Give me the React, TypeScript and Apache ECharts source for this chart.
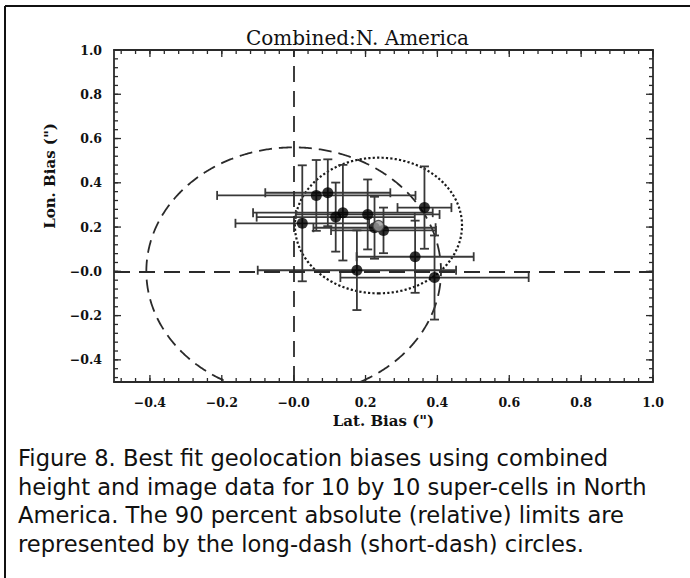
import React, { useEffect, useRef } from "react";
import * as echarts from "echarts";

// Best-fit biases (arcsec) per super-cell
const latBias = [0.024, 0.063, 0.095, 0.117, 0.137, 0.206, 0.225, 0.25, 0.176, 0.338, 0.364, 0.392];
const lonBias = [0.217, 0.343, 0.355, 0.245, 0.265, 0.257, 0.197, 0.185, 0.005, 0.066, 0.288, -0.028];
const latErr = [0.186, 0.276, 0.174, 0.22, 0.25, 0.2, 0.17, 0.146, 0.276, 0.163, 0.075, 0.262];
const lonErr = [0.262, 0.16, 0.151, 0.156, 0.216, 0.158, 0.14, 0.103, 0.18, 0.163, 0.186, 0.19];
// mean bias (grey point)
const meanBias = [0.236, 0.205];
// 90 percent limits: [centerLat, centerLon, radiusLat, radiusLon]
const absoluteLimit = [0, 0, 0.41, 0.56];
const relativeLimit = [0.236, 0.207, 0.2325, 0.3065];

const xRange = [-0.5, 1.0];
const yRange = [-0.5, 1.0];
const xMajorTicks = [-0.4, -0.2, 0, 0.2, 0.4, 0.6, 0.8, 1.0];
const yMajorTicks = [-0.4, -0.2, 0, 0.2, 0.4, 0.6, 0.8, 1.0];
const minorStep = 0.04;

const titleText = "Combined:N. America";
const xName = 'Lat. Bias (")';
const yName = 'Lon. Bias (")';
const captionLines = [
  "Figure 8. Best fit geolocation biases using combined",
  "height and image data for 10 by 10 super-cells in North",
  "America. The 90 percent absolute (relative) limits are",
  "represented by the long-dash (short-dash) circles.",
];

function minorTicks(range: number[]) {
  const out: number[] = [];
  const start = Math.ceil(range[0] / minorStep - 1e-9) * minorStep;
  for (let v = start; v <= range[1] + 1e-9; v += minorStep) out.push(Math.round(v * 100) / 100);
  return out;
}

const fmt = (v: number) => {
  if (Math.abs(v) < 1e-9) return "\u22120.0";
  return v < 0 ? "\u2212" + Math.abs(v).toFixed(1) : v.toFixed(1);
};

const AXIS_COLOR = "#2a2a2a";
const LABEL_FONT = "DejaVu Serif";

export default function App() {
  const ref = useRef<HTMLDivElement>(null);
  useEffect(() => {
    if (!ref.current) return;
    const chart = echarts.init(ref.current, null, { renderer: "svg" });

    const labelStyle = {
      color: "#111",
      fontFamily: LABEL_FONT,
      fontWeight: "bold",
      fontSize: 12.5,
    };
    const mkX = (position: string, labels: boolean) => ({
      type: "value",
      min: xRange[0],
      max: xRange[1],
      position,
      splitLine: { show: false },
      axisLine: { show: true, onZero: false, lineStyle: { color: AXIS_COLOR, width: 1.8 } },
      axisTick: { show: false },
      axisLabel: labels
        ? { show: true, customValues: xMajorTicks, formatter: fmt, margin: 14, ...labelStyle }
        : { show: false },
      ...(labels
        ? {
            name: xName,
            nameLocation: "middle",
            nameGap: 31,
            nameTextStyle: { fontFamily: LABEL_FONT, fontWeight: "bold", fontSize: 15, color: "#111" },
          }
        : {}),
    });
    const mkY = (position: string, labels: boolean) => ({
      type: "value",
      min: yRange[0],
      max: yRange[1],
      position,
      splitLine: { show: false },
      axisLine: { show: true, onZero: false, lineStyle: { color: AXIS_COLOR, width: 1.8 } },
      axisTick: { show: false },
      axisLabel: labels
        ? { show: true, customValues: yMajorTicks, formatter: fmt, margin: 12, ...labelStyle }
        : { show: false },
    });

    const points = latBias.map((x, i) => [x, lonBias[i], latErr[i], lonErr[i]]);
    const barStyle = { stroke: "#383838", lineWidth: 1.8 };

    // tick rows: [value, isYAxis, isMajor]
    const tickRows: number[][] = [
      ...minorTicks(xRange).map((v) => [v, 0, 0]),
      ...xMajorTicks.map((v) => [v, 0, 1]),
      ...minorTicks(yRange).map((v) => [v, 1, 0]),
      ...yMajorTicks.map((v) => [v, 1, 1]),
    ];

    const option: any = {
      animation: false,
      backgroundColor: "#fff",
      grid: { left: 114, top: 50, width: 539, height: 332 },
      xAxis: [mkX("bottom", true), mkX("top", false)],
      yAxis: [mkY("left", true), mkY("right", false)],
      graphic: [
        { type: "line", shape: { x1: 5, y1: 6, x2: 690, y2: 6 }, style: { stroke: "#111", lineWidth: 2 } },
        { type: "line", shape: { x1: 5, y1: 6, x2: 5, y2: 578 }, style: { stroke: "#111", lineWidth: 2 } },
        {
          type: "text",
          x: 246,
          y: 38,
          style: { text: titleText, fontFamily: LABEL_FONT, fontSize: 20, fill: "#111", align: "left", verticalAlign: "middle" },
        },
        {
          type: "text",
          x: 50,
          y: 176,
          rotation: Math.PI / 2,
          style: { text: yName, fontFamily: LABEL_FONT, fontWeight: "bold", fontSize: 15, fill: "#111", align: "center", verticalAlign: "middle" },
        },
        ...captionLines.map((t, i) => ({
          type: "text",
          x: 18,
          y: 458 + i * 28.5,
          style: { text: t, fontFamily: "DejaVu Sans", fontSize: 22.6, fill: "#111", align: "left", verticalAlign: "middle" },
        })),
      ],
      series: [
        {
          type: "custom",
          name: "ticks",
          silent: true,
          encode: { x: 0, y: 1 },
          data: tickRows,
          z: 2,
          renderItem: (params: any, api: any) => {
            const v = api.value(0), isY = api.value(1), major = api.value(2);
            const len = major ? 7 : 4;
            const st = { stroke: AXIS_COLOR, lineWidth: 1.3 };
            if (!isY) {
              const b = api.coord([v, yRange[0]]);
              const t = api.coord([v, yRange[1]]);
              return {
                type: "group",
                children: [
                  { type: "line", shape: { x1: b[0], y1: b[1], x2: b[0], y2: b[1] - len }, style: st },
                  { type: "line", shape: { x1: t[0], y1: t[1], x2: t[0], y2: t[1] + len }, style: st },
                ],
              };
            }
            const l = api.coord([xRange[0], v]);
            const r = api.coord([xRange[1], v]);
            return {
              type: "group",
              children: [
                { type: "line", shape: { x1: l[0], y1: l[1], x2: l[0] + len, y2: l[1] }, style: st },
                { type: "line", shape: { x1: r[0], y1: r[1], x2: r[0] - len, y2: r[1] }, style: st },
              ],
            };
          },
        },
        {
          type: "custom",
          name: "limits",
          silent: true,
          encode: { x: 0, y: 1 },
          data: [
            [...absoluteLimit, 0],
            [...relativeLimit, 1],
          ],
          z: 3,
          renderItem: (params: any, api: any) => {
            const cx = api.value(0), cy = api.value(1), rx = api.value(2), ry = api.value(3), kind = api.value(4);
            const pts: number[][] = [];
            for (let i = 0; i <= 720; i++) {
              const t = -Math.PI / 2 + (i * Math.PI) / 360;
              const x = cx + rx * Math.cos(t);
              const y = cy + ry * Math.sin(t);
              if (y < yRange[0] || y > yRange[1] || x < xRange[0] || x > xRange[1]) continue;
              pts.push(api.coord([x, y]));
            }
            return {
              type: "polyline",
              shape: { points: pts },
              style:
                kind === 0
                  ? { stroke: "#2a2a2a", lineWidth: 1.8, fill: "none", lineDash: [13, 7] }
                  : { stroke: "#1a1a1a", lineWidth: 2.2, fill: "none", lineDash: [2.2, 2.2] },
            };
          },
        },
        {
          type: "custom",
          name: "errors",
          encode: { x: 0, y: 1 },
          data: points,
          z: 4,
          renderItem: (params: any, api: any) => {
            const x = api.value(0), y = api.value(1), xe = api.value(2), ye = api.value(3);
            const l = api.coord([x - xe, y]);
            const r = api.coord([x + xe, y]);
            const t = api.coord([x, y + ye]);
            const b = api.coord([x, y - ye]);
            const cap = 4.5;
            const ln = (x1: number, y1: number, x2: number, y2: number) => ({
              type: "line",
              shape: { x1, y1, x2, y2 },
              style: barStyle,
            });
            return {
              type: "group",
              children: [
                ln(l[0], l[1], r[0], r[1]),
                ln(l[0], l[1] - cap, l[0], l[1] + cap),
                ln(r[0], r[1] - cap, r[0], r[1] + cap),
                ln(t[0], t[1], b[0], b[1]),
                ln(t[0] - cap, t[1], t[0] + cap, t[1]),
                ln(b[0] - cap, b[1], b[0] + cap, b[1]),
              ],
            };
          },
        },
        {
          type: "scatter",
          name: "bias",
          data: points.map((p) => [p[0], p[1]]),
          symbol: "circle",
          symbolSize: 11,
          itemStyle: { color: "#000" },
          z: 5,
          markLine: {
            silent: true,
            symbol: "none",
            label: { show: false },
            lineStyle: { color: "#2a2a2a", width: 1.8, type: [16, 9] },
            data: [{ xAxis: 0 }, { yAxis: 0 }],
          },
        },
        {
          type: "scatter",
          name: "mean",
          data: [meanBias],
          symbol: "circle",
          symbolSize: 11,
          itemStyle: { color: "#9a9a9a", borderColor: "#333", borderWidth: 1.2 },
          z: 6,
        },
      ],
    };
    chart.setOption(option);
    return () => chart.dispose();
  }, []);
  return (
    <div
      ref={ref}
      style={{ position: "absolute", left: 0, top: 0, width: 690, height: 578, background: "#fff" }}
    />
  );
}
